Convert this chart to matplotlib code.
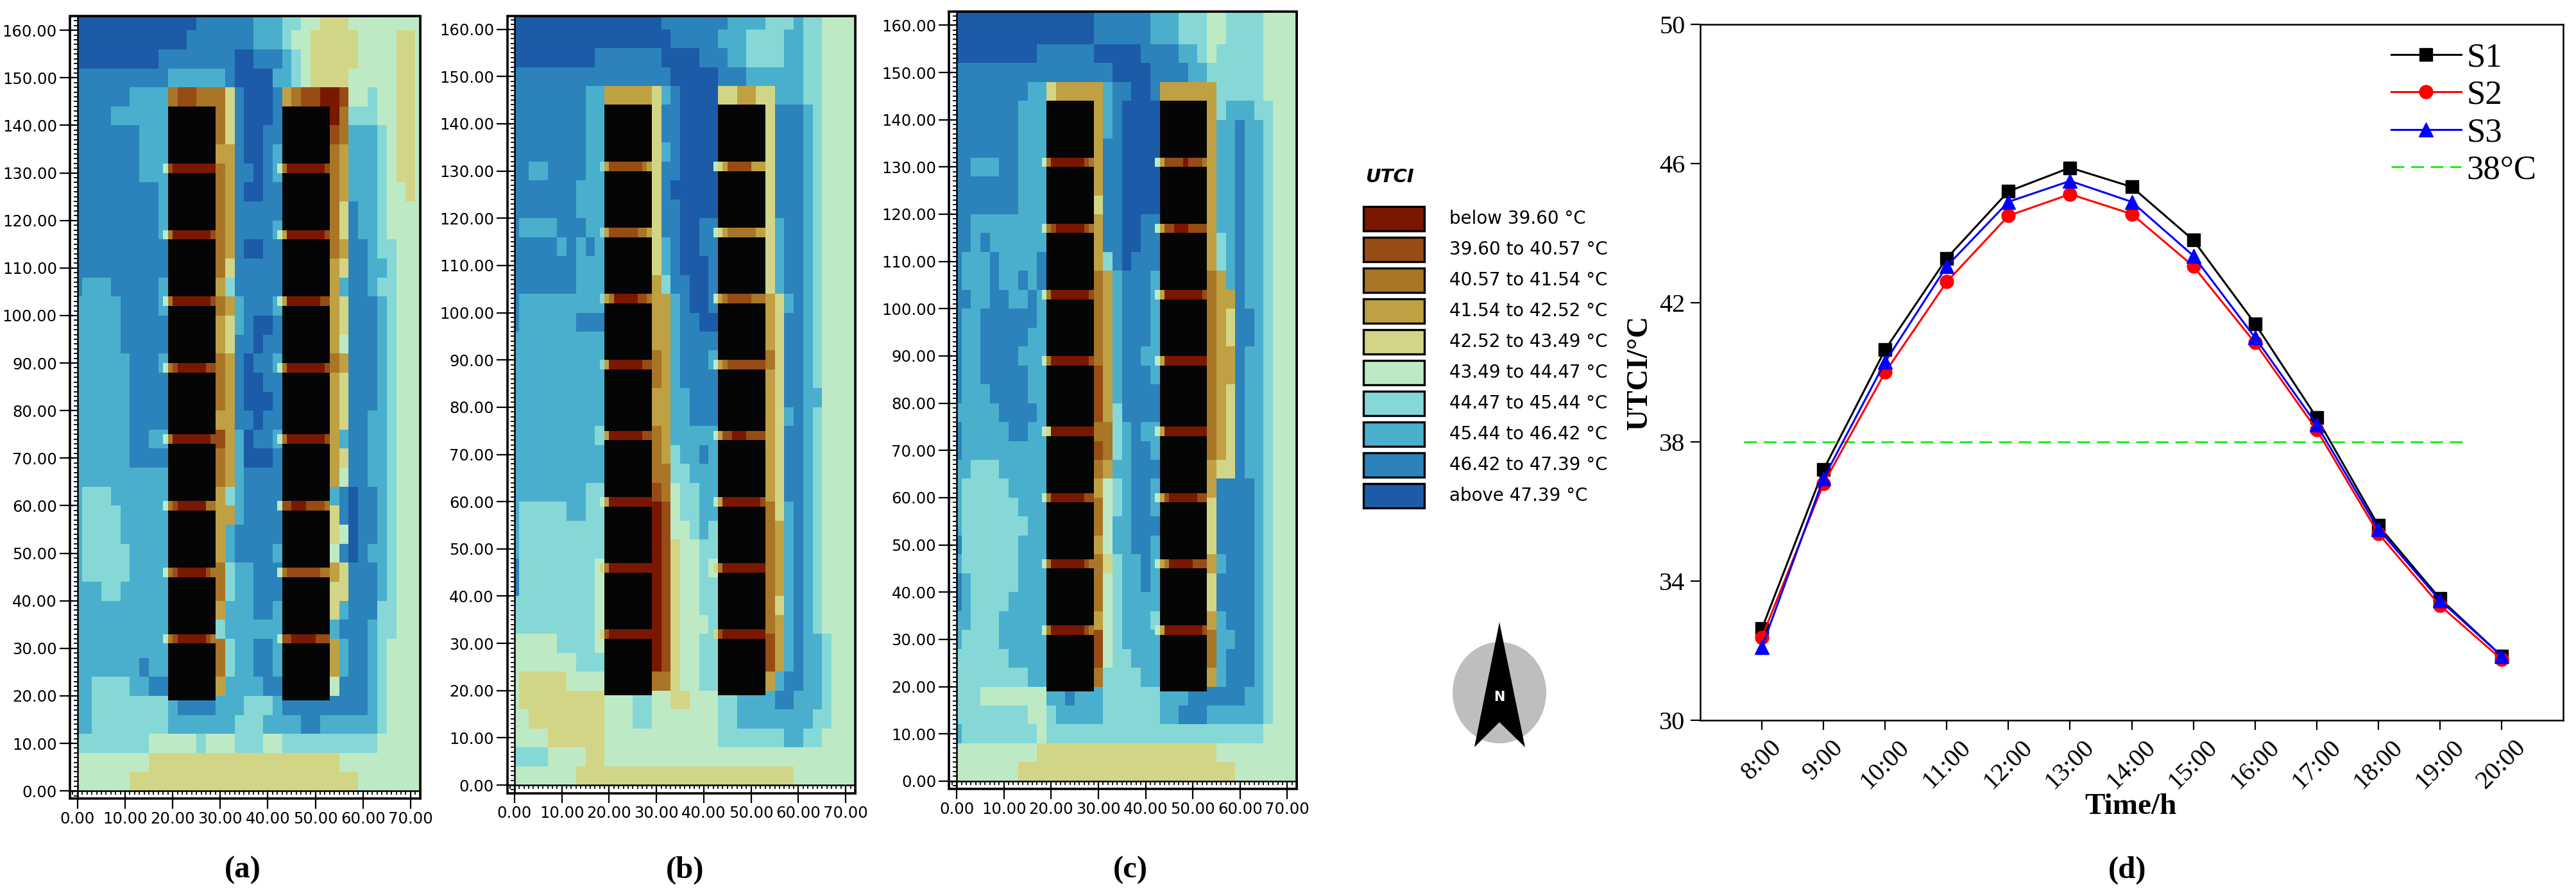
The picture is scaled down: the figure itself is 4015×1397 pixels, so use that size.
import numpy as np
import matplotlib
matplotlib.use("Agg")
import matplotlib.pyplot as plt
from matplotlib.colors import ListedColormap, BoundaryNorm
from matplotlib.patches import Rectangle, Ellipse, Polygon
from matplotlib.ticker import MultipleLocator

W, H = 4015, 1397
SERIF = "Liberation Serif"

#%% legend classes, darkest red (coolest class) to dark blue
class_colors = ["#7A1700", "#964C14", "#A97526", "#BFA043", "#D3D586",
                "#BDEAC5", "#85D8D6", "#49AFCD", "#2C82BB", "#1C5BA8"]
class_labels = ["below 39.60 °C", "39.60 to 40.57 °C", "40.57 to 41.54 °C",
                "41.54 to 42.52 °C", "42.52 to 43.49 °C", "43.49 to 44.47 °C",
                "44.47 to 45.44 °C", "45.44 to 46.42 °C", "46.42 to 47.39 °C",
                "above 47.39 °C"]

#%% UTCI class per cell, rows from y=164 down to y=0 in 4 m steps
# columns: x=0-1, then 2 m wide to 71, then 71-72; x = building
field_a = [
    "9999999999 99988 8888777 66554 4455555555",
    "9999999999 99888 8888777 65544 4445555445",
    "9999999998 88888 8899888 76544 4445555445",
    "8888888888 77777 7899997 76544 4455555445",
    "8888887777 21122 2489998 32110 0155655445",
    "8888777777 xxxxx 2489998 xxxxx 0266655445",
    "8888888777 xxxxx 2489988 xxxxx 1277765445",
    "8888888777 xxxxx 3389987 xxxxx 2377765445",
    "8888888777 xxxxx 2388987 xxxxx 2377765445",
    "8888888887 xxxxx 2389988 xxxxx 2377765545",
    "8888888887 xxxxx 2388888 xxxxx 2487765555",
    "8888888887 xxxxx 2388887 xxxxx 2487765555",
    "8888888888 xxxxx 2389988 xxxxx 2388766555",
    "8888888888 xxxxx 2488888 xxxxx 3488776555",
    "8777888887 xxxxx 3688888 xxxxx 3788766555",
    "7777788887 xxxxx 2378887 xxxxx 3488876555",
    "7777788888 xxxxx 3478998 xxxxx 3488876555",
    "7777788888 xxxxx 3488988 xxxxx 3588876555",
    "7777778887 xxxxx 2389887 xxxxx 2388876555",
    "7777778888 xxxxx 2389988 xxxxx 3488876555",
    "7777778888 xxxxx 2389998 xxxxx 3488876555",
    "7777778888 xxxxx 3388988 xxxxx 3488776555",
    "7777778877 xxxxx 1379887 xxxxx 3788776555",
    "7777778888 xxxxx 2379998 xxxxx 3488776555",
    "7777777777 xxxxx 2378888 xxxxx 3588776555",
    "7666777777 xxxxx 3678888 xxxxx 7898876555",
    "7666677777 xxxxx 3378888 xxxxx 4898876555",
    "7666677777 xxxxx 3788888 xxxxx 4598876555",
    "7666667777 xxxxx 3788887 xxxxx 5898776555",
    "7666667777 xxxxx 2677888 xxxxx 3488876555",
    "7776677777 xxxxx 2677888 xxxxx 4488876555",
    "7777777777 xxxxx 3777887 xxxxx 4788866555",
    "7777777777 xxxxx 6777777 xxxxx 7888766555",
    "7777777777 xxxxx 2677887 xxxxx 3788765555",
    "7777777877 xxxxx 2677887 xxxxx 3788765555",
    "7766667788 xxxxx 3777788 xxxxx 5888765555",
    "7766666666 78888 7776667 88888 8888765555",
    "7766666666 77777 7766677 77887 7777765555",
    "6666666655 55565 5566655 66666 6666655555",
    "5555555544 44444 4444444 44444 4555555555",
    "5555554444 44444 4444444 44444 4445555555",
]
field_b = [
    "9999999999 99999 9888888 87777 6667665555",
    "9999999999 99999 9988888 77766 6677665555",
    "9999999998 88888 8999988 87766 6677665555",
    "8888888888 88888 8899999 88877 7777665555",
    "8888888877 33333 4789999 44334 4777665555",
    "8888888877 xxxxx 4889999 xxxxx 4888765555",
    "8888888877 xxxxx 4889999 xxxxx 4888765555",
    "8888888877 xxxxx 4789999 xxxxx 4888765555",
    "8877888877 xxxxx 4889999 xxxxx 4888765555",
    "8888888777 xxxxx 4899999 xxxxx 4888765555",
    "8888888777 xxxxx 4889999 xxxxx 4888765555",
    "8777788877 xxxxx 4889988 xxxxx 4788765555",
    "8888878787 xxxxx 4789988 xxxxx 4788765555",
    "8888888777 xxxxx 4789998 xxxxx 4788765555",
    "8888888777 xxxxx 3688998 xxxxx 4788765555",
    "8777777777 xxxxx 3378998 xxxxx 3478765555",
    "8777777888 xxxxx 3378899 xxxxx 3488765555",
    "7777777777 xxxxx 3378888 xxxxx 3488765555",
    "7777777777 xxxxx 2378887 xxxxx 2488765555",
    "7777777777 xxxxx 2378888 xxxxx 3488765555",
    "7777777777 xxxxx 3377888 xxxxx 3488775555",
    "7777777777 xxxxx 3377888 xxxxx 3478765555",
    "7777777776 xxxxx 2377777 xxxxx 3488765555",
    "7777777777 xxxxx 2367787 xxxxx 3488765555",
    "7777777777 xxxxx 2266777 xxxxx 3488765555",
    "7777777766 xxxxx 1256677 xxxxx 3488765555",
    "7666667766 xxxxx 0156677 xxxxx 2478765555",
    "7666666666 xxxxx 0155676 xxxxx 2378765555",
    "7666666666 xxxxx 0145566 xxxxx 2378765555",
    "8666666665 xxxxx 0145565 xxxxx 2378765555",
    "8666666665 xxxxx 0145566 xxxxx 2378765555",
    "6666666665 xxxxx 0145566 xxxxx 2478765555",
    "6666666665 xxxxx 0145556 xxxxx 2378765555",
    "5555566665 xxxxx 0145566 xxxxx 1378776555",
    "5555555666 xxxxx 0145566 xxxxx 1378776555",
    "5444445555 xxxxx 2245566 xxxxx 3788776555",
    "5444444444 55566 5544555 66777 7887776555",
    "5544444444 55566 5555555 66777 7777766555",
    "5555444444 55555 5555555 66666 6677665555",
    "6666555544 55555 5555555 55555 5555555555",
    "5555555444 44444 4444444 44444 4445555555",
]
field_c = [
    "9999999999 99999 8888887 77666 5566665555",
    "9999999999 99999 8888887 77666 5566665555",
    "9999999998 88888 9999988 88776 5666665555",
    "8888888888 88888 8899998 88877 6666665555",
    "8888888877 43333 3788998 33333 3666665555",
    "8888888777 xxxxx 3789999 xxxxx 3677766555",
    "8888888777 xxxxx 3789999 xxxxx 3778776555",
    "8888888777 xxxxx 3889999 xxxxx 3778776555",
    "8877788777 xxxxx 3889999 xxxxx 3778776555",
    "8888888777 xxxxx 3889999 xxxxx 3778776555",
    "8888888777 xxxxx 4889999 xxxxx 3778776555",
    "8877777777 xxxxx 3889988 xxxxx 3778776555",
    "8878777777 xxxxx 3889988 xxxxx 3678776555",
    "8777877778 xxxxx 3689888 xxxxx 3678776555",
    "8777877878 xxxxx 2378887 xxxxx 2378776555",
    "8877887787 xxxxx 2378887 xxxxx 2338776555",
    "8778888887 xxxxx 2378887 xxxxx 2348876555",
    "8778888877 xxxxx 2378887 xxxxx 2348876555",
    "8778888777 xxxxx 2378877 xxxxx 2338776555",
    "8778888877 xxxxx 1378887 xxxxx 2338776555",
    "8777888877 xxxxx 1378888 xxxxx 2348776555",
    "7777788887 xxxxx 1368888 xxxxx 2348776555",
    "8777778877 xxxxx 2267877 xxxxx 2348776555",
    "8777777777 xxxxx 1267887 xxxxx 2348776555",
    "7766677777 xxxxx 2377888 xxxxx 3448776555",
    "7666667777 xxxxx 3567887 xxxxx 3888876555",
    "7666666777 xxxxx 2567887 xxxxx 4888876555",
    "7666666677 xxxxx 2577888 xxxxx 4888876555",
    "8666666777 xxxxx 3577887 xxxxx 4888876555",
    "7666666777 xxxxx 2467787 xxxxx 3788876555",
    "8766666777 xxxxx 2567787 xxxxx 4888876555",
    "8766667777 xxxxx 2567777 xxxxx 4888876555",
    "7766677777 xxxxx 3567776 xxxxx 3788876555",
    "7666677777 xxxxx 1567777 xxxxx 2778876555",
    "6666667777 xxxxx 1566777 xxxxx 2788876555",
    "6666666677 xxxxx 2666677 xxxxx 3788876555",
    "6665555555 77877 7666666 77788 8888776555",
    "6666666655 67777 7666666 77888 7777776555",
    "7666666665 66666 6666666 66666 6666665555",
    "5555555554 44444 4444444 44444 4555555555",
    "5555555444 44444 4444444 44444 4445555555",
]

#%% strips between the building blocks, top gap first; 1 m cells from x=18 and x=42
gap_bottoms = [130, 116, 102, 88, 73, 59, 45, 31]
gaps_a_w = ["51000000000", "52000000001", "52000000001", "52100000011",
            "52000000001", "52100000022", "52100000012", "52100000012"]
gaps_a_e = ["52000000001", "53000000001", "53000000011", "52000000001",
            "52000000001", "51100011112", "52111111122", "51100000111"]
gaps_b_w = ["63111111123", "63111111223", "63200000112", "63000000011",
            "63000000011", "53000000000", "42000000000", "41000000000"]
gaps_b_e = ["54311111333", "54322222233", "53211111222", "53211111111",
            "53110001111", "53000000001", "42000000000", "41000000000"]
gaps_c_w = ["52000000012", "52100000012", "52000000001", "52000000001",
            "54000000000", "52000000011", "52000000012", "52000000012"]
gaps_c_e = ["53111101112", "53110001111", "53000000001", "53000000000",
            "53000000000", "53100000011", "53200000111", "53000000001"]

#%% building blocks (bottom, top) and footprints
block_y = [(19, 31), (33, 45), (47, 59), (61, 73), (75, 88), (90, 102), (104, 116), (118, 130), (132, 144)]
tower_x = [(19, 29), (43, 53)]

#%% line chart values
hours = ["8:00", "9:00", "10:00", "11:00", "12:00", "13:00", "14:00",
         "15:00", "16:00", "17:00", "18:00", "19:00", "20:00"]
s1 = [32.63, 37.2, 40.65, 43.28, 45.2, 45.88, 45.33, 43.8, 41.4, 38.7, 35.6, 33.5, 31.85]
s2 = [32.38, 36.8, 40.0, 42.6, 44.5, 45.12, 44.55, 43.05, 40.85, 38.35, 35.37, 33.3, 31.75]
s3 = [32.1, 36.95, 40.3, 43.05, 44.9, 45.5, 44.9, 43.35, 41.0, 38.5, 35.5, 33.45, 31.85]
threshold = 38

x_edges = np.concatenate(([0], np.arange(1, 72, 2), [72]))
y_edges = np.arange(0, 165, 4)
cmap = ListedColormap(class_colors)
norm = BoundaryNorm(np.arange(-0.5, 10.5), cmap.N)


def parse_field(rows):
    out = []
    for r in rows[::-1]:
        r = r.replace(" ", "")
        out.append([np.nan if c == "x" else int(c) for c in r])
    return np.ma.masked_invalid(np.array(out, dtype=float))


def px_axes(fig, left, top, right, bottom):
    return fig.add_axes([left / W, 1 - bottom / H, (right - left) / W, (bottom - top) / H])


def map_panel(fig, box, xlim, ylim, field, gaps_w, gaps_e):
    ax = px_axes(fig, *box)
    ax.pcolormesh(x_edges, y_edges, parse_field(field), cmap=cmap, norm=norm, antialiased=False, zorder=1)
    for gaps, x0, tx in [(gaps_w, 18, tower_x[0]), (gaps_e, 42, tower_x[1])]:
        for y0, g in zip(gap_bottoms, gaps):
            vals = np.array([[int(c) for c in g]], dtype=float)
            ax.pcolormesh(np.arange(x0, x0 + len(g) + 1), [y0, y0 + 2], vals, cmap=cmap, norm=norm,
                          antialiased=False, zorder=2)
        for y0, y1 in block_y:
            ax.add_patch(Rectangle((tx[0], y0), tx[1] - tx[0], y1 - y0, fc="#050505", ec="none", zorder=3))
    ax.set_xlim(*xlim)
    ax.set_ylim(*ylim)
    ax.spines["left"].set_position(("data", 0))
    ax.spines["bottom"].set_position(("data", 0))
    for s in ax.spines.values():
        s.set_linewidth(1.8)
        s.set_zorder(5)
    ax.add_patch(Rectangle((0, 0), 1, 1, transform=ax.transAxes, fill=False, ec="black", lw=2.6,
                           clip_on=False, zorder=6))
    ax.xaxis.set_major_locator(MultipleLocator(10))
    ax.yaxis.set_major_locator(MultipleLocator(10))
    ax.xaxis.set_minor_locator(MultipleLocator(1))
    ax.yaxis.set_minor_locator(MultipleLocator(1))
    ax.tick_params(which="major", direction="out", length=20, width=1.6, labelsize=17.5, pad=3)
    ax.tick_params(which="minor", direction="out", length=4, width=1.3)
    ax.xaxis.set_major_formatter(lambda v, p: "%.2f" % v)
    ax.yaxis.set_major_formatter(lambda v, p: "%.2f" % v)
    ax.set_xticks(np.arange(0, 71, 10))
    ax.set_yticks(np.arange(0, 161, 10))
    return ax


fig = plt.figure(figsize=((W + 0.01) / 100, (H + 0.01) / 100), dpi=100, facecolor="white")

map_panel(fig, (109, 25, 655, 1245), (-1.6, 72.05), (-1.6, 163), field_a, gaps_a_w, gaps_a_e)
map_panel(fig, (790.5, 25, 1333, 1237), (-1.55, 72), (-1.75, 162.8), field_b, gaps_b_w, gaps_b_e)
map_panel(fig, (1479, 18, 2021, 1230), (-1.65, 72), (-1.65, 162.9), field_c, gaps_c_w, gaps_c_e)

#%% line chart
ax = px_axes(fig, 2650, 38, 3995, 1123)
xs = np.arange(len(hours))
ax.plot([-0.29, 11.45], [threshold, threshold], color="#22EE22", lw=2.2, ls=(0, (6.5, 3.5)), label="38°C", zorder=1)
ax.plot(xs, s1, color="black", lw=2.2, marker="s", ms=14, label="S1", zorder=2)
ax.plot(xs, s2, color="red", lw=2.2, marker="o", ms=15, label="S2", zorder=3)
ax.plot(xs, s3, color="blue", lw=2.2, marker="^", ms=16, label="S3", zorder=4)
ax.set_xlim(-1, 13)
ax.set_ylim(30, 50)
ax.set_yticks([30, 34, 38, 42, 46, 50])
ax.set_xticks(xs)
ax.set_xticklabels(hours, rotation=45, ha="center", family=SERIF)
ax.tick_params(direction="out", length=11, width=1.6, labelsize=29, pad=6)
for t in ax.get_yticklabels():
    t.set_family(SERIF)
for s in ax.spines.values():
    s.set_linewidth(1.8)
ax.set_xlabel("Time/h", family=SERIF, fontweight="bold", fontsize=34, va="center")
ax.xaxis.set_label_coords(0.499, -0.124)
ax.set_ylabel("UTCI/°C", family=SERIF, fontweight="bold", fontsize=33, va="center")
ax.yaxis.set_label_coords(-0.07, 0.5)
hnd, lab = ax.get_legend_handles_labels()
order = [1, 2, 3, 0]
ax.legend([hnd[i] for i in order], [lab[i] for i in order], loc="upper left", bbox_to_anchor=(0.801, 0.974),
          frameon=False, prop={"family": SERIF, "size": 38}, handlelength=2.05, handletextpad=0.17,
          labelspacing=0.2, borderpad=0, borderaxespad=0, numpoints=1)

#%% overlay in pixel coordinates: legend, north arrow, panel letters
ov = fig.add_axes([0, 0, 1, 1], facecolor="none")
ov.set_xlim(0, W)
ov.set_ylim(H, 0)
ov.axis("off")
ov.text(2128, 276, "UTCI", fontsize=21, fontweight="bold", style="italic", va="center", ha="left")
for i, (c, l) in enumerate(zip(class_colors, class_labels)):
    yc = 341 + 48 * i
    ov.add_patch(Rectangle((2125, yc - 19), 95, 38, fc=c, ec="black", lw=2.4))
    ov.text(2259, yc, l, fontsize=20, va="center", ha="left")
ov.add_patch(Ellipse((2337, 1080), 146, 158, fc="#BEBEBE", ec="none"))
ov.add_patch(Polygon([(2337, 970), (2298, 1165), (2337, 1126), (2377, 1165)], fc="black", ec="none"))
ov.text(2337, 1087, "N", color="white", fontsize=15, fontweight="bold", ha="center", va="center")
for s, x in [("(a)", 378), ("(b)", 1068), ("(c)", 1762), ("(d)", 3316)]:
    ov.text(x, 1357, s, family=SERIF, fontweight="bold", fontsize=35, ha="center", va="center")

plt.savefig("out.png", dpi=100, facecolor="white")
plt.close(fig)
